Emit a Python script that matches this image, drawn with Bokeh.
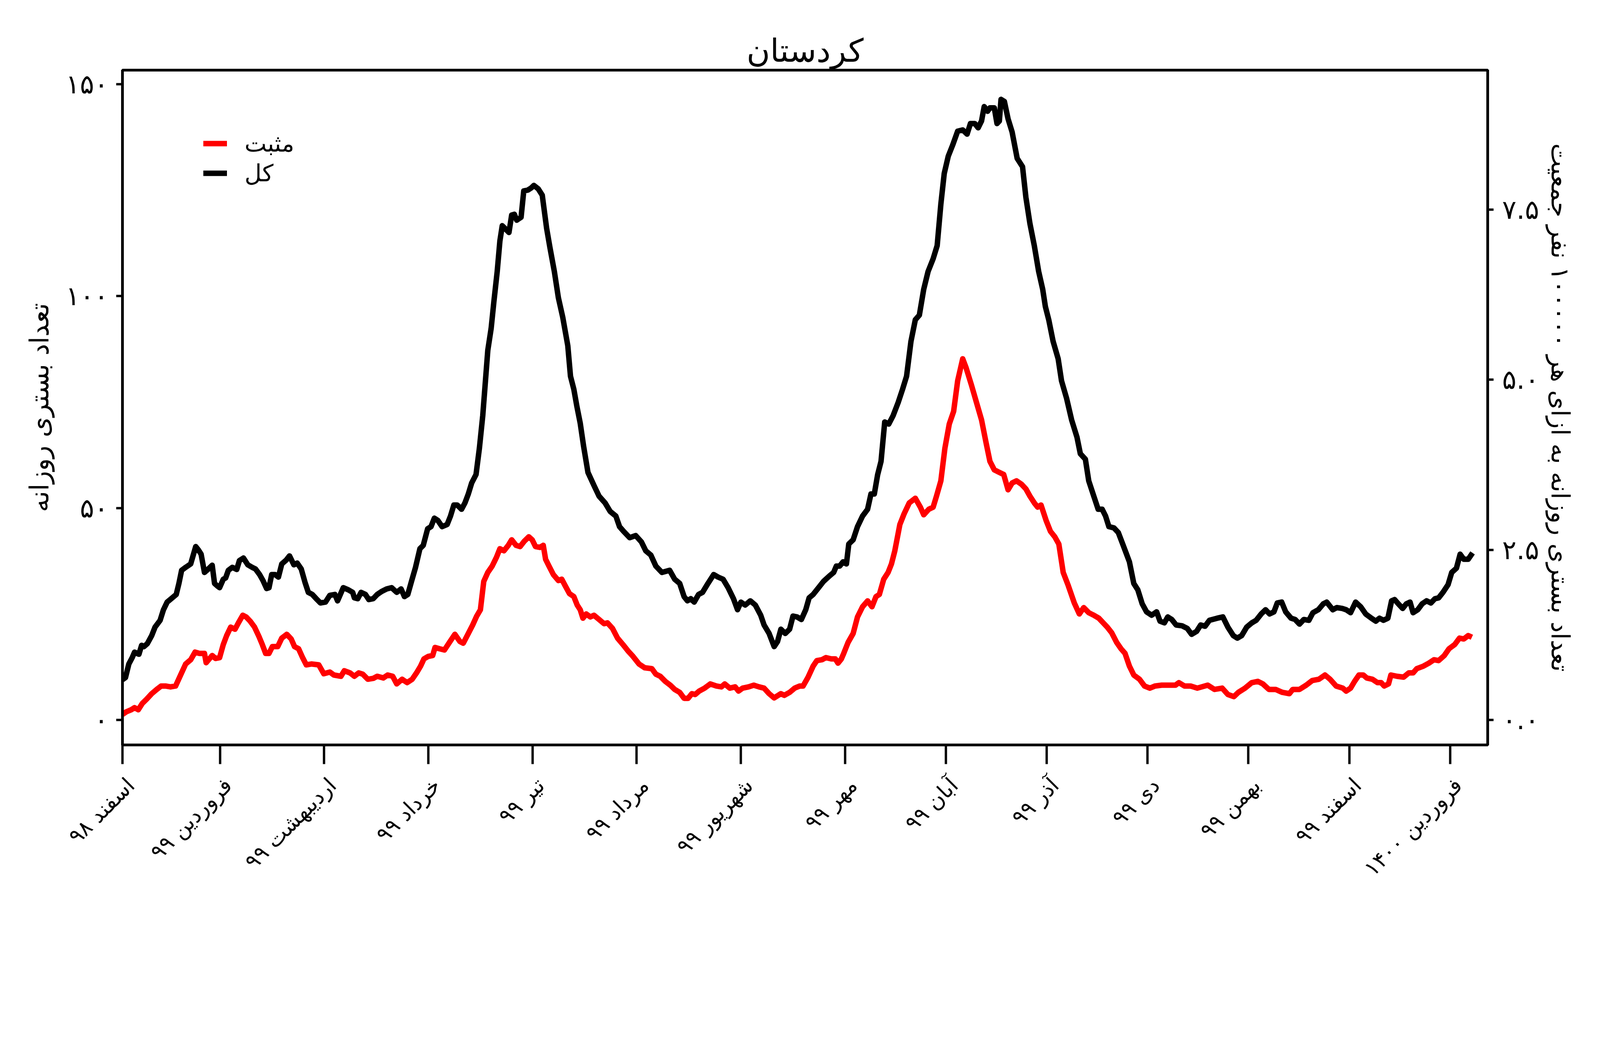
import pandas as pd
from bokeh.plotting import figure
from bokeh.models import LinearAxis, DatetimeAxis, Range1d, FixedTicker, Legend, LegendItem
from bokeh.embed import file_html
from bokeh.resources import INLINE

# ---------------- data ----------------
start_date = "2020-02-20"   # 1 Esfand 1398
end_offset_days = 406.2

total_days = [0.0, 0.9, 1.9, 2.9, 3.6, 4.9, 5.7, 6.4, 7.4, 8.7, 9.7, 11.2, 12.2, 13.3, 14.8, 16.0, 16.8, 17.6, 18.8, 20.3,
              21.8, 22.6, 23.4, 24.4, 25.4, 26.7, 27.4, 28.4, 28.9, 30.0, 30.7, 31.5, 32.7, 34.0, 34.8, 36.0, 37.3, 38.6,
              39.6, 40.8, 41.8, 42.9, 43.6, 44.4, 45.4, 46.4, 47.4, 48.7, 49.7, 51.0, 52.0, 53.2, 54.3, 55.3, 56.5,
              57.9, 58.9, 60.4, 61.7, 63.2, 64.0, 65.7, 67.2, 68.5, 69.0, 70.0, 71.0, 72.3, 73.3, 74.6, 75.8, 77.1,
              78.6, 80.1, 81.6, 82.9, 83.9, 84.9, 86.0, 87.2, 88.5, 89.5, 90.8, 91.8, 92.8, 93.8, 95.1, 96.6, 97.6,
              98.6, 99.6, 100.9, 101.9, 102.9, 103.9, 105.2, 106.2, 107.2, 108.0, 108.7, 109.7, 110.5, 111.5, 112.3,
              113.0, 114.0, 115.0, 115.8, 116.6, 117.3, 118.6, 119.4, 120.6, 121.6, 122.4, 123.7, 124.9, 126.2, 127.2,
              128.5, 129.7, 131.0, 132.5, 133.3, 134.3, 135.2, 136.2, 137.2, 138.5, 140.3, 141.8, 143.6, 145.1, 146.8,
              147.9, 149.1, 150.9, 152.7, 154.4, 155.7, 157.2, 158.7, 160.5, 162.8, 164.3, 165.8, 167.1, 168.1, 169.1,
              170.1, 171.4, 172.6, 174.2, 175.9, 177.2, 178.7, 180.2, 181.8, 183.0, 184.0, 185.3, 186.8, 188.3, 189.9,
              190.9, 192.4, 193.9, 194.9, 195.9, 197.2, 198.5, 199.5, 200.7, 202.0, 203.3, 204.3, 205.5, 207.1, 208.6,
              210.4, 211.6, 212.4, 213.4, 214.4, 215.4, 216.1, 217.4, 218.7, 220.2, 221.7, 222.7, 223.7, 224.7, 225.7,
              226.8, 228.0, 229.3, 230.8, 232.1, 233.3, 234.6, 235.9, 237.1, 238.4, 239.7, 241.2, 242.4, 243.5, 244.5,
              245.7, 247.0, 248.5, 250.0, 251.3, 252.3, 253.6, 254.6, 255.6, 256.4, 257.4, 258.1, 259.4, 260.2, 260.9,
              261.4, 262.4, 263.5, 264.7, 266.2, 267.8, 268.8, 270.0, 271.3, 272.6, 273.8, 274.6, 275.6, 276.9, 278.4,
              279.4, 280.9, 282.4, 284.0, 285.0, 286.5, 287.5, 289.0, 290.3, 291.5, 292.5, 293.5, 295.0, 296.3, 297.6,
              298.6, 299.6, 300.9, 302.1, 303.4, 304.7, 306.2, 307.7, 308.7, 310.0, 311.0, 312.2, 313.5, 315.3, 316.8,
              318.1, 319.6, 320.8, 322.1, 323.4, 325.7, 327.4, 328.9, 330.5, 331.7, 333.0, 334.5, 336.0, 337.3, 338.8,
              340.1, 341.3, 342.6, 343.6, 344.9, 346.1, 347.7, 348.9, 350.2, 351.5, 353.0, 354.2, 355.8, 357.3, 358.3,
              360.1, 361.3, 362.9, 364.1, 365.4, 366.9, 368.4, 369.9, 371.6, 372.9, 374.0, 375.2, 376.5, 377.6, 378.5,
              379.6, 380.9, 382.0, 383.1, 384.0, 385.4, 386.7, 388.0, 389.3, 390.5, 391.6, 392.9, 394.4, 395.5, 396.9,
              398.0, 399.1, 400.4, 401.7]
total_values = [9.5, 10.0, 13.2, 14.7, 16.0, 15.5, 17.6, 17.3, 18.0, 19.9, 21.9, 23.5, 26.0, 27.8, 28.8, 29.6, 32.2, 35.3,
                36.0, 36.8, 40.9, 40.1, 39.1, 34.8, 35.5, 36.5, 32.2, 31.5, 31.2, 33.2, 33.5, 35.3, 36.0, 35.5, 37.6,
                38.2, 36.6, 36.0, 35.6, 34.3, 32.9, 31.0, 31.2, 34.3, 34.3, 33.7, 36.8, 37.7, 38.7, 36.6, 37.0, 35.6,
                32.5, 30.1, 29.6, 28.4, 27.6, 27.8, 29.4, 29.6, 28.1, 31.2, 30.7, 30.1, 28.8, 28.6, 30.1, 29.6, 28.4,
                28.6, 29.6, 30.3, 30.9, 31.2, 30.1, 30.9, 29.1, 29.6, 32.7, 36.0, 40.4, 41.2, 45.1, 45.6, 47.6, 47.1,
                45.6, 46.1, 48.1, 50.7, 50.7, 49.7, 51.2, 53.3, 55.9, 57.9, 64.1, 71.8, 80.0, 87.2, 92.4, 98.6, 105.8,
                113.0, 116.6, 115.8, 115.0, 119.1, 119.3, 117.9, 118.6, 124.8, 125.0, 125.5, 126.1, 125.3, 123.8, 116.0,
                111.4, 105.8, 99.6, 95.0, 88.3, 81.1, 78.0, 74.0, 70.0, 64.6, 58.4, 55.3, 52.8, 51.2, 49.2, 48.1, 45.6,
                44.5, 43.0, 43.5, 42.0, 39.9, 38.9, 36.3, 34.8, 35.3, 33.2, 32.2, 29.1, 28.1, 28.6, 27.8, 29.6, 30.1,
                32.2, 34.3, 33.7, 33.2, 31.2, 28.6, 26.0, 27.8, 27.1, 28.1, 27.1, 24.7, 22.4, 20.4, 17.3, 18.5, 21.4,
                20.4, 21.4, 24.5, 24.3, 23.7, 26.0, 28.8, 29.6, 31.2, 32.7, 34.0, 34.8, 36.3, 36.3, 37.3, 36.8, 41.5,
                42.5, 45.6, 48.1, 49.7, 53.3, 53.3, 57.9, 61.0, 70.3, 69.8, 71.8, 74.9, 78.0, 81.1, 89.3, 94.4, 95.5,
                101.6, 105.8, 108.8, 111.9, 121.7, 128.9, 133.0, 135.6, 138.9, 139.2, 138.2, 140.7, 140.7, 139.7, 141.3,
                144.7, 143.6, 144.4, 144.4, 140.7, 141.3, 146.4, 145.9, 141.8, 138.7, 132.5, 130.5, 123.3, 117.1, 111.9,
                105.8, 101.6, 97.5, 94.4, 89.3, 85.2, 80.0, 75.9, 70.8, 66.7, 62.8, 61.5, 56.4, 52.8, 49.7, 49.7, 48.1,
                45.6, 45.3, 44.2, 41.5, 39.4, 37.3, 32.2, 30.7, 27.4, 25.5, 24.7, 25.5, 23.3, 22.9, 24.3, 23.7, 22.4,
                22.2, 21.6, 20.2, 20.9, 22.4, 22.1, 23.5, 24.0, 24.3, 21.9, 19.9, 19.3, 19.9, 21.9, 22.9, 23.5, 25.0,
                26.0, 25.0, 25.5, 27.6, 27.8, 25.5, 24.0, 23.7, 22.6, 23.7, 23.5, 25.3, 26.0, 27.4, 27.8, 26.0, 26.5,
                26.3, 26.0, 25.3, 27.8, 26.7, 25.0, 24.0, 23.3, 24.0, 23.5, 24.0, 28.1, 28.4, 27.4, 26.3, 27.4, 27.8,
                25.3, 26.0, 27.4, 28.1, 27.6, 28.6, 28.8, 30.1, 31.9, 34.8, 35.8, 39.1, 37.9, 37.9, 39.4]

positive_days = [0.0, 1.1, 2.6, 3.6, 4.7, 5.9, 7.2, 8.7, 10.2, 11.5, 12.8, 14.3, 15.8, 17.3, 18.8, 20.3, 21.6, 22.9, 24.4,
                 24.9, 26.7, 27.7, 28.9, 30.0, 31.0, 32.2, 33.5, 34.5, 35.8, 36.8, 38.0, 39.3, 40.6, 41.6, 42.6, 43.6,
                 44.6, 46.2, 47.4, 48.9, 50.2, 51.2, 52.4, 53.6, 54.7, 56.2, 58.4, 59.9, 61.7, 62.9, 65.0, 66.0, 67.7,
                 69.0, 70.3, 71.5, 73.0, 74.6, 75.8, 77.6, 78.9, 80.4, 81.6, 83.2, 84.7, 86.2, 87.5, 88.7, 89.7, 91.0,
                 92.3, 93.0, 94.3, 95.8, 97.3, 98.9, 100.4, 101.4, 102.9, 104.2, 105.4, 106.5, 107.5, 108.7, 110.0,
                 111.3, 112.3, 113.5, 114.8, 115.8, 117.1, 118.3, 119.6, 120.9, 121.9, 122.9, 124.2, 125.2, 125.9,
                 126.9, 128.2, 129.7, 130.7, 131.7, 133.0, 134.3, 135.3, 136.2, 137.0, 138.0, 139.2, 140.3, 141.8,
                 143.3, 144.3, 145.8, 147.3, 148.9, 150.4, 151.9, 153.7, 155.4, 157.5, 158.7, 160.0, 161.5, 163.0,
                 164.3, 165.8, 167.1, 168.3, 169.4, 170.4, 171.6, 173.2, 174.9, 176.7, 178.2, 179.2, 180.7, 182.3,
                 183.3, 184.5, 186.3, 187.8, 189.4, 190.9, 192.4, 193.9, 195.9, 196.9, 198.5, 200.0, 201.5, 202.5,
                 204.0, 205.5, 206.6, 208.1, 209.3, 210.9, 212.1, 212.9, 213.9, 214.6, 215.9, 217.4, 218.7, 220.2,
                 221.7, 223.0, 224.2, 225.2, 226.5, 227.8, 228.8, 229.8, 231.3, 232.6, 234.1, 235.9, 237.4, 238.4,
                 239.9, 241.2, 242.2, 243.5, 244.7, 246.0, 247.3, 248.5, 250.0, 251.0, 252.6, 254.1, 255.6, 256.9,
                 258.1, 259.4, 260.9, 262.2, 263.5, 264.7, 266.0, 267.5, 268.8, 270.0, 271.3, 272.3, 273.3, 274.8,
                 276.1, 277.4, 278.6, 279.9, 281.4, 283.2, 284.7, 286.0, 287.5, 289.0, 290.5, 291.8, 293.0, 294.3,
                 295.8, 297.1, 298.3, 299.6, 300.9, 302.6, 304.1, 305.7, 307.2, 309.2, 311.2, 313.3, 314.3, 316.0,
                 317.8, 319.8, 322.9, 324.9, 327.2, 328.9, 330.7, 332.0, 334.0, 336.0, 337.8, 339.3, 341.1, 343.1,
                 345.1, 347.2, 348.2, 350.2, 352.2, 354.0, 356.0, 357.8, 359.3, 361.1, 363.1, 364.1, 365.4, 366.6,
                 367.9, 369.2, 370.2, 371.9, 373.4, 374.5, 375.4, 376.7, 377.4, 379.2, 381.2, 382.7, 384.0, 385.1,
                 387.1, 388.7, 390.2, 391.6, 393.3, 394.7, 396.4, 397.8, 399.1, 400.4, 401.5]
positive_values = [1.3, 1.9, 2.4, 2.9, 2.4, 3.9, 4.9, 6.2, 7.2, 8.0, 8.0, 7.8, 8.0, 10.6, 13.2, 14.2, 16.0, 15.7, 15.7,
                   13.5, 15.2, 14.5, 14.7, 17.8, 19.9, 21.9, 21.4, 22.9, 24.7, 24.3, 23.3, 21.9, 19.7, 17.8, 15.7, 15.7,
                   17.3, 17.3, 19.3, 20.2, 19.1, 17.3, 16.8, 14.7, 13.0, 13.2, 13.0, 10.9, 11.3, 10.6, 10.3, 11.6, 11.1,
                   10.3, 11.1, 10.8, 9.6, 9.8, 10.3, 9.9, 10.6, 10.3, 8.5, 9.6, 8.8, 9.6, 11.1, 12.7, 14.4, 15.0, 15.2,
                   17.1, 16.8, 16.5, 18.3, 20.2, 18.5, 18.1, 20.4, 22.4, 24.5, 26.0, 32.7, 34.8, 36.3, 38.4, 40.4, 39.9,
                   41.2, 42.5, 41.2, 40.9, 42.2, 43.2, 42.5, 40.9, 40.7, 41.2, 37.9, 36.3, 34.3, 32.9, 33.2, 31.7, 29.8,
                   29.1, 27.1, 26.0, 24.0, 25.0, 24.3, 24.7, 23.7, 22.7, 22.9, 21.6, 19.3, 17.8, 16.3, 15.0, 13.2, 12.3,
                   12.1, 10.8, 10.3, 9.1, 8.2, 7.2, 6.5, 5.1, 5.1, 6.2, 6.0, 6.8, 7.5, 8.5, 8.0, 7.8, 8.5, 7.5, 7.8, 6.8,
                   7.5, 7.8, 8.2, 7.8, 7.5, 6.2, 5.2, 6.2, 5.8, 6.5, 7.5, 8.0, 8.0, 10.1, 12.7, 14.0, 14.2, 14.7, 14.4,
                   14.4, 13.4, 14.4, 15.7, 18.3, 20.4, 24.3, 26.7, 28.1, 26.7, 29.1, 29.6, 33.2, 34.8, 36.8, 39.9, 46.1,
                   48.7, 51.2, 52.3, 50.2, 48.4, 49.7, 50.2, 52.8, 56.4, 64.1, 69.8, 72.8, 80.0, 85.2, 83.1, 79.0, 74.9,
                   70.8, 65.6, 61.0, 59.0, 58.4, 57.9, 54.3, 55.9, 56.4, 55.6, 54.5, 52.8, 51.2, 50.2, 50.7, 47.1, 44.5,
                   43.2, 41.5, 34.8, 31.7, 27.6, 25.0, 26.5, 25.3, 24.7, 24.0, 22.9, 21.9, 20.6, 18.3, 16.8, 15.7, 12.7,
                   10.6, 9.6, 8.0, 7.5, 8.0, 8.2, 8.2, 8.2, 8.8, 8.0, 8.0, 7.5, 8.2, 7.2, 7.5, 6.0, 5.5, 6.5, 7.5, 8.8,
                   9.1, 8.5, 7.2, 7.2, 6.5, 6.2, 7.2, 7.2, 8.2, 9.3, 9.6, 10.6, 9.6, 8.0, 7.5, 6.8, 7.5, 9.1, 10.6, 10.6,
                   9.9, 9.6, 8.8, 8.8, 8.0, 8.5, 10.6, 10.3, 10.1, 11.1, 11.1, 12.1, 12.7, 13.4, 14.2, 14.0, 15.2, 16.8,
                   17.8, 19.3, 19.1, 19.9, 19.5]

population = 1605000          # right axis: per 100000 people
y_left_range = (-5.9, 153.3)

month_tick_dates = ["2020-02-20", "2020-03-20", "2020-04-20", "2020-05-21", "2020-06-21", "2020-07-22",
                    "2020-08-22", "2020-09-22", "2020-10-22", "2020-11-21", "2020-12-21", "2021-01-20",
                    "2021-02-19", "2021-03-21"]
month_tick_labels = ["اسفند ۹۸", "فروردین ۹۹", "اردیبهشت ۹۹", "خرداد ۹۹", "تیر ۹۹", "مرداد ۹۹",
                     "شهریور ۹۹", "مهر ۹۹", "آبان ۹۹", "آذر ۹۹", "دی ۹۹", "بهمن ۹۹", "اسفند ۹۹", "فروردین ۱۴۰۰"]
left_ticks = [0, 50, 100, 150]
left_tick_labels = ["۰", "۵۰", "۱۰۰", "۱۵۰"]
right_ticks = [0.0, 2.5, 5.0, 7.5]
right_tick_labels = ["۰.۰", "۲.۵", "۵.۰", "۷.۵"]

title_text = "کردستان"
left_label = "تعداد بستری روزانه"
right_label = "تعداد بستری روزانه به ازای هر ۱۰۰۰۰۰ نفر جمعیت"
legend_labels = ["مثبت", "کل"]

# ---------------- build ----------------
FONT = "DejaVu Sans"
W, H = 4080, 2288
B_LEFT, B_RIGHT, B_TOP, B_BOTTOM = 313, 272, 179, 382
LABEL_SHIFT_PX = 21            # month labels sit slightly right of their ticks, as in the reference

t0 = pd.Timestamp(start_date)
def to_ms(ts):
    return float(ts.value // 10**6)

x_total = [t0 + pd.Timedelta(days=d) for d in total_days]
x_pos = [t0 + pd.Timedelta(days=d) for d in positive_days]
x_start = to_ms(t0)
x_end = to_ms(t0 + pd.Timedelta(days=end_offset_days))
tick_ms = [to_ms(pd.Timestamp(d)) for d in month_tick_dates]

scale = population / 100000.0
ms_per_px = (x_end - x_start) / (W - B_LEFT - B_RIGHT)
shift_ms = LABEL_SHIFT_PX * ms_per_px

p = figure(width=W, height=H, x_axis_type="datetime", output_backend="svg", toolbar_location=None,
           x_range=Range1d(x_start, x_end), y_range=Range1d(*y_left_range),
           min_border_left=B_LEFT, min_border_right=B_RIGHT, min_border_top=B_TOP, min_border_bottom=B_BOTTOM)
p.background_fill_color = "white"
p.border_fill_color = "white"
p.outline_line_color = "black"
p.outline_line_width = 7
p.xgrid.visible = False
p.ygrid.visible = False

p.title.text = title_text
p.title.align = "center"
p.title.text_font = FONT
p.title.text_font_size = "82px"
p.title.text_font_style = "normal"
p.title.text_color = "black"
p.title.standoff = 5

r_pos = p.line(x_pos, positive_values, line_color="red", line_width=14, line_join="round")
r_tot = p.line(x_total, total_values, line_color="black", line_width=14, line_join="round")

# x axis: tick marks only
xa = p.xaxis[0]
xa.ticker = FixedTicker(ticks=tick_ms)
xa.major_label_text_font_size = "0px"
xa.major_label_text_color = None
xa.major_label_standoff = 0
xa.major_tick_out = 49
xa.major_tick_in = 0
xa.major_tick_line_width = 6
xa.minor_tick_line_color = None
xa.axis_line_width = 7

# x axis: month labels
p.extra_x_ranges = {"xlabels": Range1d(x_start - shift_ms, x_end - shift_ms)}
xb = DatetimeAxis(x_range_name="xlabels", ticker=FixedTicker(ticks=tick_ms))
xb.major_label_overrides = {t: lab for t, lab in zip(tick_ms, month_tick_labels)}
xb.major_label_orientation = 0.785398
xb.major_label_text_font = FONT
xb.major_label_text_font_size = "55px"
xb.major_label_text_color = "black"
xb.major_tick_out = 0
xb.major_tick_in = 0
xb.minor_tick_out = 0
xb.minor_tick_in = 0
xb.major_tick_line_color = None
xb.minor_tick_line_color = None
xb.axis_line_color = None
xb.major_label_standoff = 45
p.add_layout(xb, "below")

# left y axis
ya = p.yaxis[0]
ya.ticker = FixedTicker(ticks=left_ticks)
ya.major_label_overrides = {float(t): lab for t, lab in zip(left_ticks, left_tick_labels)}
ya.major_label_text_font = FONT
ya.major_label_text_font_size = "68px"
ya.major_label_text_color = "black"
ya.major_tick_out = 16
ya.major_tick_in = 0
ya.major_tick_line_width = 6
ya.minor_tick_line_color = None
ya.axis_line_width = 7
ya.major_label_standoff = 20
ya.axis_label = left_label
ya.axis_label_text_font = FONT
ya.axis_label_text_font_size = "67px"
ya.axis_label_text_font_style = "normal"
ya.axis_label_text_color = "black"
ya.axis_label_standoff = 25

# right y axis
p.extra_y_ranges = {"per100k": Range1d(y_left_range[0] / scale, y_left_range[1] / scale)}
ra = LinearAxis(y_range_name="per100k", ticker=FixedTicker(ticks=right_ticks))
ra.major_label_overrides = {float(t): lab for t, lab in zip(right_ticks, right_tick_labels)}
ra.major_label_text_font = FONT
ra.major_label_text_font_size = "68px"
ra.major_label_text_color = "black"
ra.major_tick_out = 15
ra.major_tick_in = 0
ra.major_tick_line_width = 6
ra.minor_tick_line_color = None
ra.axis_line_width = 7
ra.major_label_standoff = 22
ra.axis_label = right_label
ra.axis_label_text_font = FONT
ra.axis_label_text_font_size = "64px"
ra.axis_label_text_font_style = "normal"
ra.axis_label_text_color = "black"
ra.axis_label_standoff = 14
p.add_layout(ra, "right")

legend = Legend(items=[LegendItem(label=legend_labels[0], renderers=[r_pos]),
                       LegendItem(label=legend_labels[1], renderers=[r_tot])],
                location=(207, 1428), margin=0, padding=0, spacing=6,
                glyph_width=61, glyph_height=70, label_height=70, label_standoff=45,
                label_text_font=FONT, label_text_font_size="60px", label_text_color="black",
                border_line_alpha=0, background_fill_alpha=0)
p.add_layout(legend)

open("out.html", "w").write(file_html(p, INLINE))
